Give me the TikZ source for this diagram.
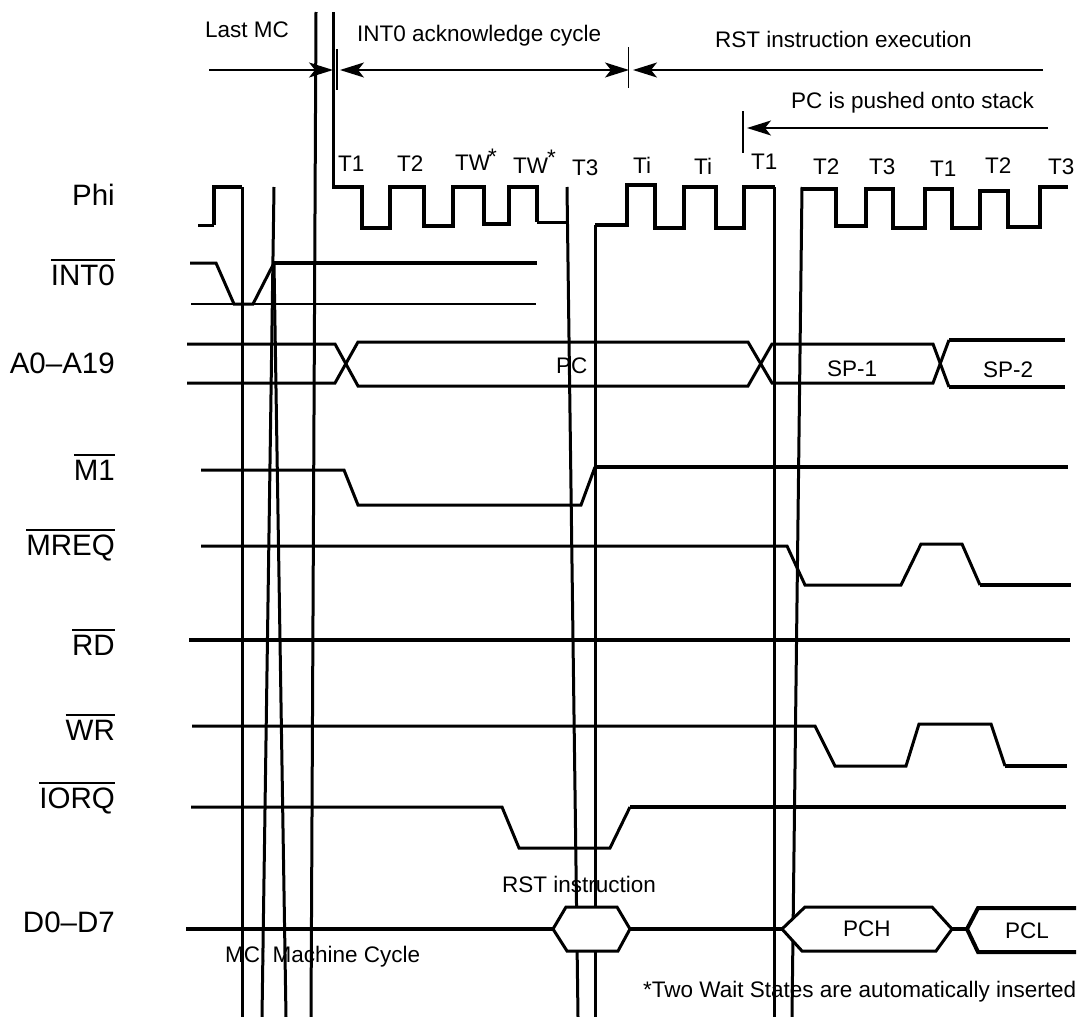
\documentclass[tikz,border=0pt]{standalone}
\usepackage{fontspec}
\setmainfont{Liberation Sans}
\usetikzlibrary{arrows.meta}
\newcommand{\barred}[1]{\vbox{\hrule height 1.6pt \kern 3.8pt \hbox{#1}}}
\newcommand{\wstar}[2]{\kern#1\raisebox{#2}{*}}

\begin{document}
\begin{tikzpicture}[
      x=1pt, y=-1pt,
      signal/.style={draw, line width=3pt},
      heavy/.style={draw, line width=4pt},
      thinline/.style={draw, line width=1.4pt},
      bus/.style={draw, fill=white, line width=3pt},
      pinlabel/.style={inner sep=0pt, anchor=base east,
        font=\fontsize{29.5}{32}\selectfont},
      caption/.style={inner sep=0pt, anchor=base west,
        font=\fontsize{22.5}{26}\selectfont},
      >={Stealth[length=24pt, width=15pt, inset=6pt]}
    ]
      \useasboundingbox (0,0) rectangle (1084,1017);

      \draw[signal] (242,187) -- (242,1017);
      \draw[signal] (274,187) -- (262,1017);
      \draw[signal] (274,263) -- (286,1017);
      \draw[signal] (316,12) -- (311,1017);
      \draw[signal] (333,12) -- (333,187);
      \draw[signal] (567,187) -- (578,1017);
      \draw[signal] (595,1017) -- (595,225);
      \draw[signal] (774,187) -- (774,1017);
      \draw[signal] (792,1017) -- (802,187);

      \draw[signal] (198,225) -- (214,225);
      \draw[heavy] (214,225) -- (214,187) -- (242,187);
      \draw[heavy] (332,187) -- (362,187) -- (362,228) -- (390,228)
        -- (390,187) -- (424,187) -- (424,226) -- (453,226) -- (453,187)
        -- (484,187) -- (484,224) -- (509,224) -- (509,187) -- (537,187) -- (537,222);
      \draw[signal] (537,222) -- (567,222);
      \draw[heavy] (595,225) -- (627,225) -- (627,185) -- (655,185) -- (655,228)
        -- (684,228) -- (684,187) -- (716,187) -- (716,228) -- (744,228)
        -- (744,187) -- (775,187);
      \draw[heavy] (801,189) -- (836,189) -- (836,226) -- (866,226) -- (866,189)
        -- (893,189) -- (893,228) -- (925,228) -- (925,189) -- (952,189)
        -- (952,228) -- (980,228) -- (980,191) -- (1008,191) -- (1008,227)
        -- (1040,227) -- (1040,187) -- (1068,187);

      \draw[signal] (190,263) -- (216,263) -- (234,304) -- (253,304) -- (274,263);
      \draw[heavy] (274,263) -- (537,263);
      \draw[thinline] (191,304) -- (536,304);

      \draw[signal] (187,344) -- (335,344) -- (358,386) -- (748,386) -- (772,344)
        -- (933,344) -- (949,387);
      \draw[signal] (187,383) -- (335,383) -- (358,342) -- (748,342) -- (772,383)
        -- (933,383) -- (949,340);
      \draw[heavy] (949,340) -- (1065,340);
      \draw[heavy] (949,387) -- (1065,387);

      \draw[signal] (201,470) -- (344,470) -- (358,505) -- (581,505) -- (595,467);
      \draw[heavy] (595,467) -- (1068,467);
      \draw[signal] (201,546) -- (787,546) -- (805,585) -- (901,585) -- (921,544)
        -- (962,544) -- (980,585);
      \draw[heavy] (980,585) -- (1071,585);
      \draw[heavy] (189,640) -- (1070,640);
      \draw[signal] (192,726) -- (815,726) -- (835,766) -- (906,766) -- (919,724)
        -- (991,724) -- (1005,766);
      \draw[heavy] (1005,766) -- (1067,766);
      \draw[signal] (191,807) -- (502,807) -- (519,848) -- (610,848) -- (630,807);
      \draw[heavy] (630,807) -- (1066,807);

      \draw[heavy] (186,929) -- (553,929);
      \draw[heavy] (630,929) -- (782,929);
      \draw[heavy] (952,929) -- (967,929);
      \draw[bus] (553,929) -- (566,907) -- (617,907) -- (630,929) -- (618,951)
        -- (567,951) -- cycle;
      \draw[bus] (782,929) -- (805,907) -- (932,907) -- (952,929) -- (936,951)
        -- (802,951) -- cycle;
      \draw[heavy] (1076,908) -- (978,908) -- (967,929) -- (978,952) -- (1076,952);

      \coordinate (lastleft) at (209,70);
      \coordinate (lastright) at (333,70);
      \coordinate (ackleft) at (340,70);
      \coordinate (ackright) at (629,70);
      \coordinate (rstleft) at (633,70);
      \coordinate (rstright) at (1043,70);
      \coordinate (pushleft) at (747,128);
      \coordinate (pushright) at (1048,128);
      \draw[thinline] (337,49) -- (337,90);
      \draw[thinline] (628.5,47) -- (628.5,88);
      \draw[thinline] (743,111) -- (743,153);
      \draw[thinline, ->] (lastleft) -- (lastright);
      \draw[thinline, <->] (ackleft) -- (ackright);
      \draw[thinline, ->] (rstright) -- (rstleft);
      \draw[thinline, ->] (pushright) -- (pushleft);

      \node[pinlabel] (phi) at (115,205) {Phi};
      \node[pinlabel] (int) at (115,285) {\barred{INT0}};
      \node[pinlabel] (addr) at (115,373) {A0–A19};
      \node[pinlabel] (mone) at (115,480) {\barred{M1}};
      \node[pinlabel] (mreq) at (115,555) {\barred{MREQ}};
      \node[pinlabel] (rd) at (115,655) {\barred{RD}};
      \node[pinlabel] (wr) at (115,740) {\barred{WR}};
      \node[pinlabel] (iorq) at (115,808) {\barred{IORQ}};
      \node[pinlabel] (data) at (115,932) {D0–D7};

      \node[caption] (lastmc) at (205,37) {Last MC};
      \node[caption] (ack) at (357,41) {INT0 acknowledge cycle};
      \node[caption] (rstexec) at (715,47) {RST instruction execution};
      \node[caption] (push) at (791,108) {PC is pushed onto stack};

      \node[caption] (ta) at (338,171) {T1};
      \node[caption] (tb) at (397,171) {T2};
      \node[caption] (tc) at (455,170) {TW\wstar{-2pt}{6pt}};
      \node[caption] (td) at (513,173) {TW\wstar{-1pt}{8pt}};
      \node[caption] (te) at (572,175) {T3};
      \node[caption] (tf) at (633,173) {Ti};
      \node[caption] (tg) at (694,174) {Ti};
      \node[caption] (th) at (751,169) {T1};
      \node[caption] (ti) at (813,174) {T2};
      \node[caption] (tj) at (869,174) {T3};
      \node[caption] (tk) at (930,176) {T1};
      \node[caption] (tl) at (985,173) {T2};
      \node[caption] (tm) at (1048,174) {T3};

      \node[caption] (pc) at (556,373) {PC};
      \node[caption] (spa) at (827,376) {SP-1};
      \node[caption] (spb) at (983,377) {SP-2};
      \node[caption] (rstins) at (502,892) {RST instruction};
      \node[caption] (pch) at (843,936) {PCH};
      \node[caption] (pcl) at (1005,938) {PCL};
      \node[caption] (mcnote) at (225,962) {MC: Machine Cycle};
      \node[caption] (waitnote) at (643,997) {*Two Wait States are automatically inserted};
    \end{tikzpicture}
\end{document}
